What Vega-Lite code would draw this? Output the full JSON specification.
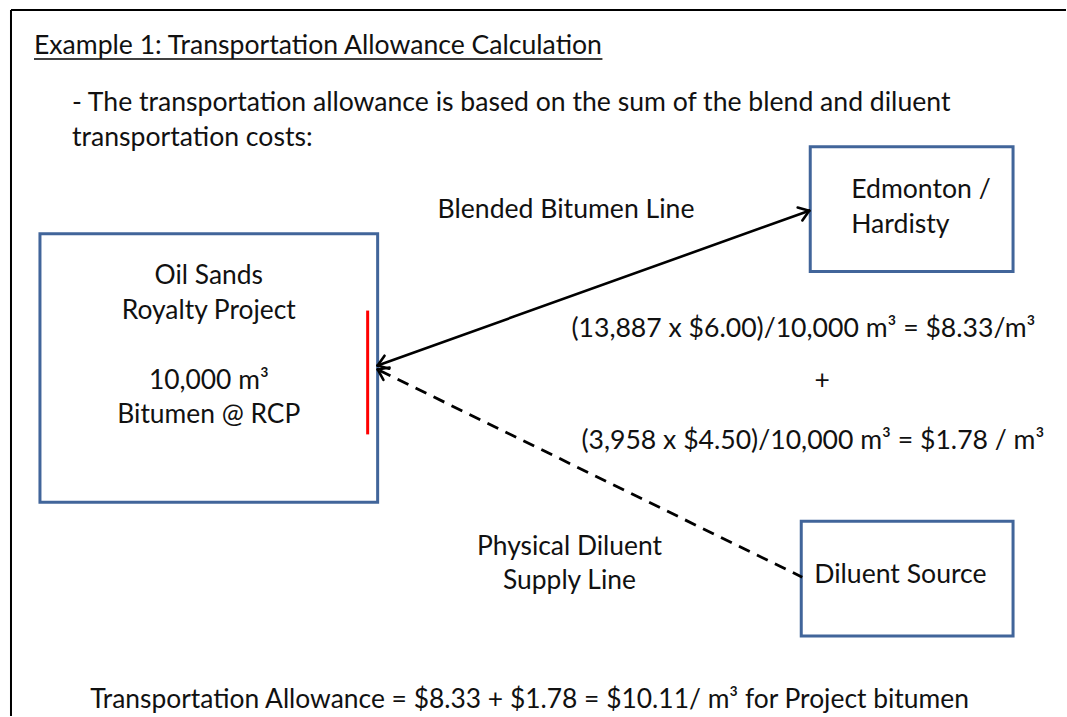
{
  "$schema": "https://vega.github.io/schema/vega-lite/v6.json",
  "autosize": {"type": "fit", "contains": "padding"},
  "width": 1067,
  "height": 717,
  "padding": 0,
  "background": "white",
  "config": {"view": {"stroke": null}},
  "datasets": {
    "frame": [
      {"x": 11, "y": 10, "x2": 1067, "y2": 10},
      {"x": 11, "y": 10, "x2": 11, "y2": 717}
    ],
    "boxes": [
      {"name": "Oil Sands Royalty Project", "x": 40, "x2": 378, "y": 234, "y2": 503},
      {"name": "Edmonton / Hardisty", "x": 811, "x2": 1014, "y": 147, "y2": 272},
      {"name": "Diluent Source", "x": 802, "x2": 1014, "y": 522, "y2": 637}
    ],
    "solid": [
      {"seg": "Blended Bitumen Line", "x": 378, "y": 366, "x2": 810, "y2": 211},
      {"seg": "head right a", "x": 810, "y": 211, "x2": 798.4, "y2": 207.8},
      {"seg": "head right b", "x": 810, "y": 211, "x2": 803.1, "y2": 220.8},
      {"seg": "head left a", "x": 378, "y": 366, "x2": 389.6, "y2": 369.2},
      {"seg": "head left b", "x": 378, "y": 366, "x2": 384.9, "y2": 356.2},
      {"seg": "dashed head a", "x": 378, "y": 370, "x2": 383.8, "y2": 380.5},
      {"seg": "dashed head b", "x": 378, "y": 370, "x2": 389.9, "y2": 368.1}
    ],
    "dashed": [
      {"seg": "Physical Diluent Supply Line", "x": 380, "y": 371, "x2": 803, "y2": 578}
    ],
    "red": [
      {"seg": "RCP", "x": 368, "y": 311, "x2": 368, "y2": 435}
    ],
    "underline": [
      {"x": 34, "y": 59, "x2": 603, "y2": 59}
    ],
    "textLeft": [
      {"x": 34, "y": 45, "text": "Example 1: Transportation Allowance Calculation"},
      {"x": 72, "y": 102, "text": "- The transportation allowance is based on the sum of the blend and diluent"},
      {"x": 72, "y": 137, "text": "transportation costs:"},
      {"x": 438, "y": 209, "text": "Blended Bitumen Line"},
      {"x": 852, "y": 189, "text": "Edmonton /"},
      {"x": 852, "y": 224, "text": "Hardisty"},
      {"x": 572, "y": 328, "text": "(13,887 x $6.00)/10,000 m³ = $8.33/m³"},
      {"x": 582, "y": 440, "text": "(3,958 x $4.50)/10,000 m³ = $1.78 / m³"},
      {"x": 815, "y": 574, "text": "Diluent Source"}
    ],
    "textCenter": [
      {"x": 209, "y": 275, "text": "Oil Sands"},
      {"x": 209, "y": 310, "text": "Royalty Project"},
      {"x": 209, "y": 380, "text": "10,000 m³"},
      {"x": 209, "y": 414, "text": "Bitumen @ RCP"},
      {"x": 823, "y": 380, "text": "+"},
      {"x": 570, "y": 546, "text": "Physical Diluent"},
      {"x": 570, "y": 580, "text": "Supply Line"},
      {"x": 530, "y": 699, "text": "Transportation Allowance = $8.33 + $1.78 = $10.11/ m³ for Project bitumen"}
    ]
  },
  "layer": [
    {
      "data": {"name": "frame"},
      "mark": {"type": "rule", "color": "black", "strokeWidth": 2},
      "encoding": {
        "x": {"field": "x", "type": "quantitative", "scale": {"domain": [0, 1067], "nice": false, "zero": false}, "axis": null},
        "y": {"field": "y", "type": "quantitative", "scale": {"domain": [0, 717], "nice": false, "zero": false, "reverse": true}, "axis": null},
        "x2": {"field": "x2"},
        "y2": {"field": "y2"}
      }
    },
    {
      "data": {"name": "boxes"},
      "mark": {"type": "rect", "fill": "white", "stroke": "#41659a", "strokeWidth": 3},
      "encoding": {
        "x": {"field": "x", "type": "quantitative"},
        "x2": {"field": "x2"},
        "y": {"field": "y", "type": "quantitative"},
        "y2": {"field": "y2"}
      }
    },
    {
      "data": {"name": "red"},
      "mark": {"type": "rule", "color": "#ff0000", "strokeWidth": 3},
      "encoding": {
        "x": {"field": "x", "type": "quantitative"},
        "x2": {"field": "x2"},
        "y": {"field": "y", "type": "quantitative"},
        "y2": {"field": "y2"}
      }
    },
    {
      "data": {"name": "solid"},
      "mark": {"type": "rule", "color": "black", "strokeWidth": 2.6, "strokeCap": "round"},
      "encoding": {
        "x": {"field": "x", "type": "quantitative"},
        "x2": {"field": "x2"},
        "y": {"field": "y", "type": "quantitative"},
        "y2": {"field": "y2"}
      }
    },
    {
      "data": {"name": "dashed"},
      "mark": {"type": "rule", "color": "black", "strokeWidth": 2.8, "strokeDash": [12, 8]},
      "encoding": {
        "x": {"field": "x", "type": "quantitative"},
        "x2": {"field": "x2"},
        "y": {"field": "y", "type": "quantitative"},
        "y2": {"field": "y2"}
      }
    },
    {
      "data": {"name": "underline"},
      "mark": {"type": "rule", "color": "black", "strokeWidth": 1.5},
      "encoding": {
        "x": {"field": "x", "type": "quantitative"},
        "x2": {"field": "x2"},
        "y": {"field": "y", "type": "quantitative"},
        "y2": {"field": "y2"}
      }
    },
    {
      "data": {"name": "textLeft"},
      "mark": {"type": "text", "align": "left", "baseline": "middle", "dy": 1.5, "font": "Lato", "fontSize": 26.6, "color": "#111111"},
      "encoding": {
        "x": {"field": "x", "type": "quantitative"},
        "y": {"field": "y", "type": "quantitative"},
        "text": {"field": "text"}
      }
    },
    {
      "data": {"name": "textCenter"},
      "mark": {"type": "text", "align": "center", "baseline": "middle", "dy": 1.5, "font": "Lato", "fontSize": 26.4, "color": "#111111"},
      "encoding": {
        "x": {"field": "x", "type": "quantitative"},
        "y": {"field": "y", "type": "quantitative"},
        "text": {"field": "text"}
      }
    }
  ]
}
